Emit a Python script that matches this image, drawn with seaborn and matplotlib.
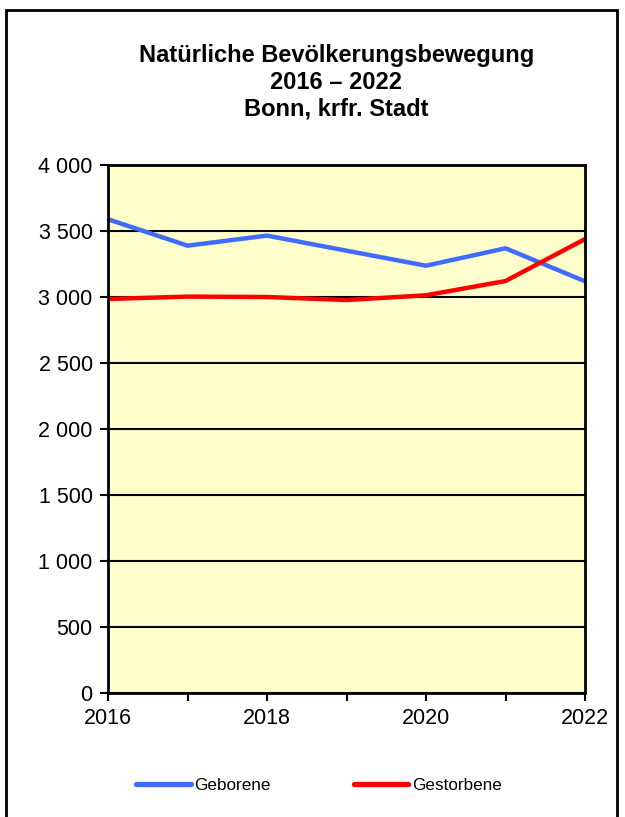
import pandas as pd
import matplotlib
matplotlib.use("Agg")
import matplotlib.pyplot as plt
import seaborn as sns
from matplotlib.patches import Rectangle
from matplotlib.lines import Line2D
from matplotlib.ticker import FuncFormatter, MultipleLocator

jahre = [2016, 2017, 2018, 2019, 2020, 2021, 2022]
geborene = [3589, 3389, 3465, 3351, 3237, 3369, 3119]
gestorbene = [2985, 3003, 3000, 2977, 3013, 3121, 3439]

df = pd.DataFrame({
    "Jahr": jahre * 2,
    "Anzahl": geborene + gestorbene,
    "Reihe": ["Geborene"] * len(jahre) + ["Gestorbene"] * len(jahre),
})

sns.set_style("white")
plt.rcParams["font.family"] = ["Liberation Sans", "DejaVu Sans"]
plt.rcParams["text.color"] = "black"

fig = plt.figure(figsize=(6.25, 8.17), dpi=100)
ax = fig.add_axes([108/625, 1-693/817, (585-108)/625, (693-165)/817])
ax.set_facecolor("#FFFFCC")

sns.lineplot(data=df, x="Jahr", y="Anzahl", hue="Reihe",
             palette={"Geborene": "#3F6BFF", "Gestorbene": "#FF0000"},
             linewidth=3.2, ax=ax, legend=False)

ax.set_xlim(2016, 2022)
ax.set_ylim(0, 4000)
ax.yaxis.set_major_locator(MultipleLocator(500))
ax.yaxis.set_major_formatter(FuncFormatter(lambda v, p: f"{int(v):,}".replace(",", " ")))
ax.set_xticks(jahre)
ax.set_xticklabels([str(j) if j % 2 == 0 else "" for j in jahre])
ax.grid(axis="y", color="black", linewidth=1.5)
ax.set_axisbelow(True)
for s in ax.spines.values():
    s.set_color("black")
    s.set_linewidth(2)
ax.tick_params(axis="both", direction="out", length=6, width=1.5, color="black",
               labelsize=15.5, left=True, bottom=True, labelcolor="black")
ax.tick_params(axis="x", pad=5)
ax.tick_params(axis="y", pad=5)
ax.set_xlabel("")
ax.set_ylabel("")

fig.text(0.538, 1-44/817, "Natürliche Bevölkerungsbewegung\n2016 – 2022\nBonn, krfr. Stadt",
         ha="center", va="top", fontsize=17, fontweight="bold", linespacing=1.22,
         color="black")

handles = [Line2D([], [], color="#3F6BFF", linewidth=3.8, solid_capstyle="round"),
           Line2D([], [], color="#FF0000", linewidth=3.8, solid_capstyle="round")]
fig.legend(handles, ["Geborene", "Gestorbene"], loc="center", ncol=2,
           bbox_to_anchor=(0.5104, 1-785/817), frameon=False, fontsize=12.3,
           handlelength=3.2, handletextpad=0.2, columnspacing=4.85,
           labelcolor="black")

fig.add_artist(Rectangle((6/625, -0.01), (617-6)/625, 1-10/817+0.01,
                         transform=fig.transFigure, fill=False,
                         edgecolor="black", linewidth=2))

fig.savefig("out.png", dpi=100)
